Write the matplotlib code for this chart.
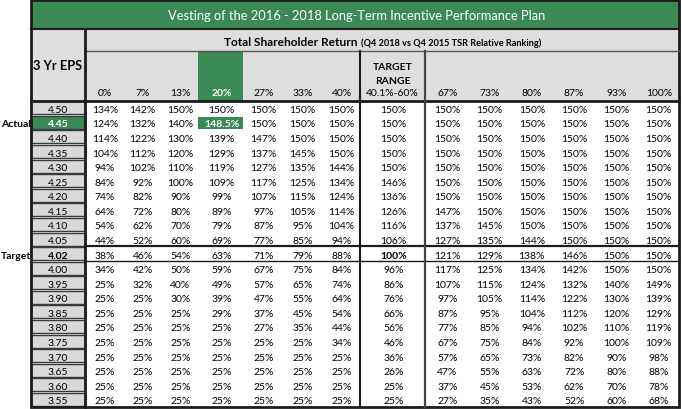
import numpy as np
import matplotlib.pyplot as plt
from matplotlib.patches import Rectangle

plt.rcParams['font.family'] = ['Lato', 'DejaVu Sans']

# ---- data ----
title = "Vesting of the 2016 - 2018 Long-Term Incentive Performance Plan"
eps = [4.50, 4.45, 4.40, 4.35, 4.30, 4.25, 4.20, 4.15, 4.10, 4.05, 4.02,
       4.00, 3.95, 3.90, 3.85, 3.80, 3.75, 3.70, 3.65, 3.60, 3.55]
tsr_low = ["0%", "7%", "13%", "20%", "27%", "33%", "40%"]
tsr_high = ["67%", "73%", "80%", "87%", "93%", "100%"]
target_label = "40.1%-60%"

vest_low = [
    [134, 142, 150, 150, 150, 150, 150],
    [124, 132, 140, 148.5, 150, 150, 150],
    [114, 122, 130, 139, 147, 150, 150],
    [104, 112, 120, 129, 137, 145, 150],
    [94, 102, 110, 119, 127, 135, 144],
    [84, 92, 100, 109, 117, 125, 134],
    [74, 82, 90, 99, 107, 115, 124],
    [64, 72, 80, 89, 97, 105, 114],
    [54, 62, 70, 79, 87, 95, 104],
    [44, 52, 60, 69, 77, 85, 94],
    [38, 46, 54, 63, 71, 79, 88],
    [34, 42, 50, 59, 67, 75, 84],
    [25, 32, 40, 49, 57, 65, 74],
    [25, 25, 30, 39, 47, 55, 64],
    [25, 25, 25, 29, 37, 45, 54],
    [25, 25, 25, 25, 27, 35, 44],
    [25, 25, 25, 25, 25, 25, 34],
    [25, 25, 25, 25, 25, 25, 25],
    [25, 25, 25, 25, 25, 25, 25],
    [25, 25, 25, 25, 25, 25, 25],
    [25, 25, 25, 25, 25, 25, 25],
]
vest_target = [150, 150, 150, 150, 150, 146, 136, 126, 116, 106, 100,
               96, 86, 76, 66, 56, 46, 36, 26, 25, 25]
vest_high = [
    [150, 150, 150, 150, 150, 150],
    [150, 150, 150, 150, 150, 150],
    [150, 150, 150, 150, 150, 150],
    [150, 150, 150, 150, 150, 150],
    [150, 150, 150, 150, 150, 150],
    [150, 150, 150, 150, 150, 150],
    [150, 150, 150, 150, 150, 150],
    [147, 150, 150, 150, 150, 150],
    [137, 145, 150, 150, 150, 150],
    [127, 135, 144, 150, 150, 150],
    [121, 129, 138, 146, 150, 150],
    [117, 125, 134, 142, 150, 150],
    [107, 115, 124, 132, 140, 149],
    [97, 105, 114, 122, 130, 139],
    [87, 95, 104, 112, 120, 129],
    [77, 85, 94, 102, 110, 119],
    [67, 75, 84, 92, 100, 109],
    [57, 65, 73, 82, 90, 98],
    [47, 55, 63, 72, 80, 88],
    [37, 45, 53, 62, 70, 78],
    [27, 35, 43, 52, 60, 68],
]
actual_eps = 4.45
target_eps = 4.02
actual_tsr = "20%"

# ---- layout (pixels) ----
GREEN = "#3b8a56"
GRAY = "#dedede"
DARK = "#1c1c1c"

left = 31
col_w = [54] + [37.7] * 3 + [45] + [39] * 3 + [65] + [42.3] * 6
edges = left + np.concatenate([[0], np.cumsum(col_w)])
right = edges[-1]
title_h, tsr_h, head_bot = 30, 52, 101.5
row_h = 14.58
row_top = head_bot + row_h * np.arange(len(eps))
bottom = row_top[-1] + row_h

fig, ax = plt.subplots(figsize=(6.82, 4.10), dpi=100)
fig.subplots_adjust(0, 0, 1, 1)
ax.set_xlim(0, 682)
ax.set_ylim(410, 0)
ax.axis("off")

def cell(c0, c1, y0, y1, **kw):
    ax.add_patch(Rectangle((edges[c0], y0), edges[c1] - edges[c0], y1 - y0, **kw))

def mid(c):
    return (edges[c] + edges[c + 1]) / 2

# title bar and header
cell(0, len(col_w), 0, title_h, facecolor=GREEN, edgecolor="none")
ax.text(357, title_h / 2 + 1, title, color="white",
        fontsize=9.3, ha="center", va="center")
cell(0, len(col_w), title_h, head_bot, facecolor=GRAY, edgecolor="none")
ax.text(358, 42, "Total Shareholder Return", fontsize=8.6, weight="bold",
        ha="right", va="center")
ax.text(361, 43, "(Q4 2018 vs Q4 2015 TSR Relative Ranking)", fontsize=6.6,
        weight="bold", ha="left", va="center")
ax.text(mid(0), 66, "3 Yr EPS", fontsize=9.3, weight="bold", ha="center", va="center")

labels = tsr_low + [None] + tsr_high
for j, lab in enumerate(labels):
    c = j + 1
    if lab is None:
        ax.text(mid(c), 68, "TARGET", fontsize=7.5, weight="bold", ha="center", va="center")
        ax.text(mid(c), 81, "RANGE", fontsize=7.5, weight="bold", ha="center", va="center")
        ax.text(mid(c), 93, target_label, fontsize=7.5, ha="center", va="center")
        continue
    if lab == actual_tsr:
        cell(c, c + 1, tsr_h + 1, head_bot, facecolor=GREEN, edgecolor="none")
        ax.text(mid(c) + 1, 93, lab, fontsize=7.5, weight="bold", color="white",
                ha="center", va="center")
    else:
        ax.text(mid(c) + 1, 93, lab, fontsize=7.5, ha="center", va="center")

# body
for i, e in enumerate(eps):
    y0 = row_top[i]
    yc = y0 + row_h / 2 + 1.5
    is_act = np.isclose(e, actual_eps)
    is_tgt = np.isclose(e, target_eps)
    cell(0, 1, y0 + 0.8, y0 + row_h - 0.8, facecolor=GREEN if is_act else "#d9d9d9",
         edgecolor="#3a3a3a", linewidth=1)
    ax.text(mid(0), yc, f"{e:.2f}", fontsize=7.5, ha="center", va="center",
            color="white" if is_act else "black",
            weight="bold" if (is_act or is_tgt) else "normal")
    vals = vest_low[i] + [vest_target[i]] + vest_high[i]
    for j, v in enumerate(vals):
        c = j + 1
        txt = f"{v:g}%"
        hit = is_act and j < len(tsr_low) and tsr_low[j] == actual_tsr
        if hit:
            cell(c, c + 1, y0 + 2, y0 + row_h - 0.5, facecolor=GREEN, edgecolor="none")
        ax.text(mid(c) + 1, yc, txt, fontsize=7.5, ha="center", va="center",
                color="white" if hit else "black",
                weight="bold" if (hit or (is_tgt and j == len(tsr_low))) else "normal")
    if is_act:
        ax.text(left, yc, "Actual", fontsize=7.5, weight="bold", ha="right", va="center")
    if is_tgt:
        ax.text(left, yc, "Target", fontsize=7.5, weight="bold", ha="right", va="center")
        ax.plot([edges[1], right], [y0, y0], color=DARK, lw=1.6)
        ax.plot([edges[1], right], [y0 + row_h, y0 + row_h], color=DARK, lw=1.0)

# grid lines
ax.plot([left, right], [title_h, title_h], color=DARK, lw=1.5)
ax.plot([edges[1], right], [tsr_h, tsr_h], color="#555555", lw=1.0)
ax.plot([left, right], [head_bot, head_bot], color=DARK, lw=2)
ax.plot([edges[1], edges[1]], [title_h, bottom], color=DARK, lw=2)
ax.plot([edges[8], edges[8]], [tsr_h, bottom], color=DARK, lw=1.5)
ax.plot([edges[9], edges[9]], [tsr_h, bottom], color="#444444", lw=1.6)
ax.add_patch(Rectangle((left, 0.8), right - left, bottom - 0.8, facecolor="none",
                       edgecolor=DARK, lw=2))

fig.savefig("out.png", dpi=100)
